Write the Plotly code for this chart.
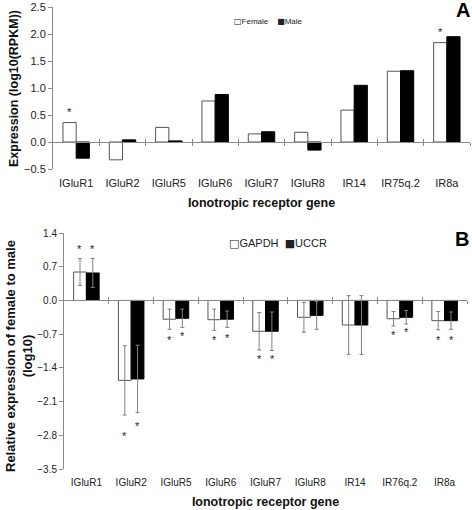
import plotly.graph_objects as go

# ---------------- data ----------------
genes_a = ["IGluR1", "IGluR2", "IGluR5", "IGluR6", "IGluR7", "IGluR8", "IR14", "IR75q.2", "IR8a"]
female = [0.36, -0.33, 0.27, 0.76, 0.15, 0.18, 0.59, 1.31, 1.84]
male = [-0.30, 0.04, 0.02, 0.88, 0.19, -0.15, 1.05, 1.32, 1.95]
stars_a = [("IGluR1", "Female", 0.62), ("IR8a", "Female", 2.10)]

genes_b = ["IGluR1", "IGluR2", "IGluR5", "IGluR6", "IGluR7", "IGluR8", "IR14", "IR76q.2", "IR8a"]
gapdh = [0.59, -1.66, -0.39, -0.40, -0.64, -0.35, -0.51, -0.38, -0.42]
gapdh_err = [0.28, 0.72, 0.21, 0.22, 0.39, 0.31, 0.61, 0.15, 0.19]
uccr = [0.57, -1.63, -0.37, -0.39, -0.64, -0.31, -0.51, -0.35, -0.42]
uccr_err = [0.30, 0.70, 0.19, 0.17, 0.40, 0.29, 0.61, 0.14, 0.18]
stars_b = [
    ("IGluR1", "GAPDH", 1.14), ("IGluR1", "UCCR", 1.14),
    ("IGluR2", "GAPDH", -2.75), ("IGluR2", "UCCR", -2.55),
    ("IGluR5", "GAPDH", -0.76), ("IGluR5", "UCCR", -0.67),
    ("IGluR6", "GAPDH", -0.76), ("IGluR6", "UCCR", -0.72),
    ("IGluR7", "GAPDH", -1.16), ("IGluR7", "UCCR", -1.16),
    ("IR76q.2", "GAPDH", -0.66), ("IR76q.2", "UCCR", -0.59),
    ("IR8a", "GAPDH", -0.75), ("IR8a", "UCCR", -0.75),
]
yticks_a = [-0.5, 0.0, 0.5, 1.0, 1.5, 2.0, 2.5]
yticks_b = [-3.5, -2.8, -2.1, -1.4, -0.7, 0.0, 0.7, 1.4]
series_a = ["Female", "Male"]
series_b = ["GAPDH", "UCCR"]
x_title = "Ionotropic receptor gene"
y_title_a = "Expression (log10(RPKM))"
y_title_b = "Relative expression of female to male<br>(log10)"

# ---------------- style ----------------
FONT = "Liberation Sans, Arial, sans-serif"
AX = "#8a8a8a"
W, H = 472, 510
dom_xa = [53 / W, 470 / W]
dom_ya = [1 - 169 / H, 1 - 7 / H]
dom_xb = [64 / W, 467 / W]
dom_yb = [1 - 469 / H, 1 - 233 / H]
BAR_HALF = 6.5

def zero_pos(dom, ticks):
    lo, hi = ticks[0], ticks[-1]
    return dom[0] + (0 - lo) / (hi - lo) * (dom[1] - dom[0])

fig = go.Figure()

white_marker = dict(color="white", line=dict(color="#555555", width=1))
black_marker = dict(color="black", line=dict(color="black", width=1))
err_style = dict(type="data", color="#808080", thickness=1, width=2)

fig.add_trace(go.Bar(x=genes_a, y=female, name=series_a[0], marker=white_marker,
                     xaxis="x", yaxis="y"))
fig.add_trace(go.Bar(x=genes_a, y=male, name=series_a[1], marker=black_marker,
                     xaxis="x", yaxis="y"))
fig.add_trace(go.Bar(x=genes_b, y=gapdh, name=series_b[0], marker=white_marker,
                     error_y=dict(array=gapdh_err, **err_style),
                     xaxis="x2", yaxis="y2"))
fig.add_trace(go.Bar(x=genes_b, y=uccr, name=series_b[1], marker=black_marker,
                     error_y=dict(array=uccr_err, **err_style),
                     xaxis="x2", yaxis="y2"))

n_a, n_b = len(genes_a), len(genes_b)
bounds_a = [i + 0.5 for i in range(n_a)]
bounds_b = [i + 0.5 for i in range(n_b)]

cat_axis = dict(type="category", showline=False, ticks="", showgrid=False, zeroline=False,
                tickfont=dict(family=FONT, size=11, color="#222"), ticklabelstandoff=6)
zero_axis = dict(type="linear", showline=True, linecolor=AX, linewidth=1, showgrid=False,
                 zeroline=False, showticklabels=False, tickcolor=AX, ticklen=3, tickwidth=1,
                 anchor="free")
val_axis = dict(showline=True, linecolor=AX, linewidth=1, ticks="outside", ticklen=4,
                tickcolor=AX, showgrid=False, zeroline=False, tickformat=".1f",
                tickfont=dict(family=FONT, size=11, color="#222"))
title_font = dict(family=FONT, size=12.5, color="#111")

fig.update_layout(
    width=W, height=H, margin=dict(l=0, r=0, t=0, b=0, autoexpand=False),
    paper_bgcolor="white", plot_bgcolor="white",
    barmode="group", bargap=0.43, bargroupgap=0,
    font=dict(family=FONT, color="#222"),
    showlegend=False,
    xaxis=dict(domain=dom_xa, anchor="y", **cat_axis,
               title=dict(text=f"<b>{x_title}</b>", standoff=10, font=title_font)),
    yaxis=dict(domain=dom_ya, anchor="x", range=[yticks_a[0], yticks_a[-1]], tickvals=yticks_a,
               **val_axis),
    xaxis3=dict(overlaying="x", range=[-0.5, n_a - 0.5], tickvals=bounds_a, ticks="outside",
                position=zero_pos(dom_ya, yticks_a), **zero_axis),
    xaxis4=dict(overlaying="x", range=[-0.5, n_a - 0.5], tickvals=bounds_a, ticks="inside",
                position=zero_pos(dom_ya, yticks_a), **{**zero_axis, "showline": False}),
    xaxis2=dict(domain=dom_xb, anchor="y2", **cat_axis,
                title=dict(text=f"<b>{x_title}</b>", standoff=10, font=title_font)),
    yaxis2=dict(domain=dom_yb, anchor="x2", range=[yticks_b[0], yticks_b[-1]], tickvals=yticks_b,
                **val_axis),
    xaxis5=dict(overlaying="x2", range=[-0.5, n_b - 0.5], tickvals=bounds_b, ticks="outside",
                position=zero_pos(dom_yb, yticks_b), **zero_axis),
    xaxis6=dict(overlaying="x2", range=[-0.5, n_b - 0.5], tickvals=bounds_b, ticks="inside",
                position=zero_pos(dom_yb, yticks_b), **{**zero_axis, "showline": False}),
)
fig.update_xaxes(tickfont_size=10, selector=dict(anchor="y2"))
fig.update_yaxes(tickfont_size=10, selector=dict(anchor="x2"))

# dummy invisible traces so overlay axes render
for xa, ya in [("x3", "y"), ("x4", "y"), ("x5", "y2"), ("x6", "y2")]:
    fig.add_trace(go.Scatter(x=[None], y=[None], xaxis=xa, yaxis=ya, showlegend=False,
                             hoverinfo="skip"))

# y-axis titles
fig.add_annotation(x=14 / W, y=1 - 89 / H, xref="paper", yref="paper", text=f"<b>{y_title_a}</b>",
                   textangle=-90, xanchor="center", yanchor="middle", showarrow=False,
                   font=title_font)
fig.add_annotation(x=19 / W, y=1 - 356 / H, xref="paper", yref="paper", text=f"<b>{y_title_b}</b>",
                   textangle=-90, xanchor="center", yanchor="middle", showarrow=False,
                   font=dict(family=FONT, size=13, color="#111"))

for gene, s, yv in stars_a:
    fig.add_annotation(x=gene, y=yv, xref="x", yref="y", text="*", showarrow=False,
                       xshift=(-BAR_HALF if s == series_a[0] else BAR_HALF), yshift=-3,
                       yanchor="middle", font=dict(family=FONT, size=11, color="#222"))
for gene, s, yv in stars_b:
    fig.add_annotation(x=gene, y=yv, xref="x2", yref="y2", text="*", showarrow=False,
                       xshift=(-BAR_HALF if s == series_b[0] else BAR_HALF), yshift=-3,
                       yanchor="middle", font=dict(family=FONT, size=11, color="#222"))

# legends (compact, like the original)
SQ_OPEN = "<span style='font-family:DejaVu Sans'>\u25a1</span>"
SQ_FILL = "<span style='font-family:DejaVu Sans'>\u25a0</span>"
fig.add_annotation(x=232 / W, y=1 - 22 / H, xref="paper", yref="paper", xanchor="left",
                   yanchor="middle",
                   text=f"{SQ_OPEN}{series_a[0]}    {SQ_FILL}{series_a[1]}", showarrow=False,
                   font=dict(family=FONT, size=8, color="#222"))
fig.add_annotation(x=227 / W, y=1 - 243 / H, xref="paper", yref="paper", xanchor="left",
                   yanchor="middle",
                   text=f"{SQ_OPEN}{series_b[0]}  {SQ_FILL}{series_b[1]}", showarrow=False,
                   font=dict(family=FONT, size=11, color="#222"))

fig.add_annotation(x=463 / W, y=1 - 10 / H, xref="paper", yref="paper", text="<b>A</b>",
                   xanchor="center", yanchor="middle",
                   showarrow=False, font=dict(family=FONT, size=20, color="black"))
fig.add_annotation(x=462 / W, y=1 - 239 / H, xref="paper", yref="paper", text="<b>B</b>",
                   xanchor="center", yanchor="middle",
                   showarrow=False, font=dict(family=FONT, size=20, color="black"))

fig.write_html("out.html", config={"displayModeBar": False},
               post_script="document.body.style.margin='0';")
